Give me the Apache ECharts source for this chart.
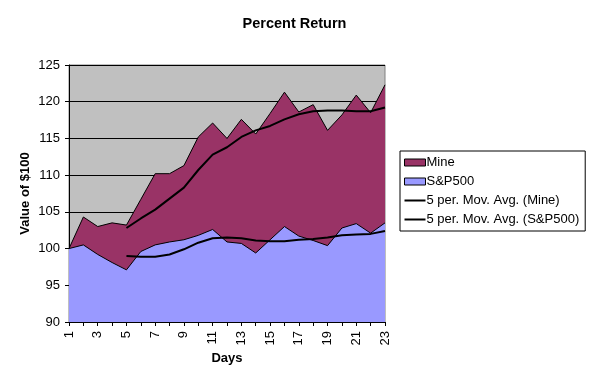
<!DOCTYPE html>
<html>
<head>
<meta charset="utf-8">
<script src="https://cdn.jsdelivr.net/npm/echarts@6/dist/echarts.min.js"></script>
<style>
html,body{margin:0;padding:0;background:#fff;}
#c{width:589px;height:383px;}
</style>
</head>
<body>
<div id="c"></div>
<script>
var days = ['1','2','3','4','5','6','7','8','9','10','11','12','13','14','15','16','17','18','19','20','21','22','23'];
var mine = [100, 104.3, 103.0, 103.5, 103.2, 106.7, 110.2, 110.2, 111.3, 115.2, 117.1, 115.0, 117.6, 115.6, 118.4, 121.3, 118.6, 119.6, 116.1, 118.2, 120.9, 118.5, 122.3];
var sp500 = [100, 100.5, 99.2, 98.1, 97.1, 99.6, 100.5, 100.9, 101.2, 101.8, 102.6, 100.9, 100.7, 99.4, 101.2, 103.0, 101.7, 101.1, 100.4, 102.8, 103.4, 102.1, 103.5];
var maMine = ['-', '-', '-', '-', 102.8, 104.1, 105.3, 106.8, 108.3, 110.7, 112.8, 113.8, 115.2, 116.1, 116.7, 117.6, 118.3, 118.7, 118.8, 118.8, 118.7, 118.7, 119.2];
var maSP = ['-', '-', '-', '-', 99.0, 98.9, 98.9, 99.2, 99.9, 100.8, 101.4, 101.5, 101.4, 101.1, 101.0, 101.0, 101.2, 101.3, 101.5, 101.8, 101.9, 102.0, 102.4];
var yTicks = [90, 95, 100, 105, 110, 115, 120, 125];

var chart = echarts.init(document.getElementById('c'), null, {renderer: 'canvas'});
var font = 'Liberation Sans, Arial, sans-serif';
var lineIcon = 'path://M0,0 L21,0 L21,2 L0,2 Z';
chart.setOption({
  animation: false,
  backgroundColor: '#ffffff',
  title: {
    text: 'Percent Return',
    left: 'center',
    top: 11,
    textStyle: {fontFamily: font, fontSize: 14.5, fontWeight: 'bold', color: '#000'}
  },
  legend: {
    orient: 'vertical',
    left: 400,
    top: 151,
    padding: [4, 6, 4, 4],
    itemGap: 4,
    itemWidth: 21,
    itemHeight: 7,
    symbolKeepAspect: true,
    backgroundColor: '#ffffff',
    borderColor: '#000000',
    borderWidth: 1,
    textStyle: {fontFamily: font, fontSize: 13, lineHeight: 15, color: '#000', padding: [0, 0, 0, -4]},
    data: [
      {name: 'Mine', icon: 'rect', itemStyle: {color: '#993366', borderColor: '#000', borderWidth: 1}},
      {name: 'S&P500', icon: 'rect', itemStyle: {color: '#9999ff', borderColor: '#000', borderWidth: 1}},
      {name: '5 per. Mov. Avg. (Mine)', icon: lineIcon, itemStyle: {color: '#000', borderWidth: 0}},
      {name: '5 per. Mov. Avg. (S&P500)', icon: lineIcon, itemStyle: {color: '#000', borderWidth: 0}}
    ]
  },
  grid: {
    left: 69, right: 204, top: 65, bottom: 61,
    show: true,
    backgroundColor: '#c0c0c0',
    borderColor: '#808080',
    borderWidth: 1
  },
  xAxis: {
    type: 'category',
    data: days,
    boundaryGap: false,
    name: 'Days',
    nameLocation: 'middle',
    nameGap: 30,
    nameMoveOverlap: false,
    nameTextStyle: {fontFamily: font, fontSize: 13, fontWeight: 'bold', color: '#000'},
    axisLine: {lineStyle: {color: '#000', width: 1}},
    axisTick: {show: true, interval: 0, length: 4, lineStyle: {color: '#000'}},
    axisLabel: {interval: 1, rotate: 90, margin: 9, fontFamily: font, fontSize: 13, color: '#000'},
    splitLine: {show: false}
  },
  yAxis: {
    type: 'value',
    min: 90,
    max: 125,
    interval: 5,
    name: 'Value of $100',
    nameLocation: 'middle',
    nameGap: 37,
    nameMoveOverlap: false,
    nameTextStyle: {fontFamily: font, fontSize: 13, fontWeight: 'bold', color: '#000'},
    axisLine: {show: true, lineStyle: {color: '#000', width: 1}},
    axisTick: {show: true, length: 4, lineStyle: {color: '#000'}},
    axisLabel: {margin: 9, fontFamily: font, fontSize: 13, color: '#000',
      formatter: function (v) { return yTicks.indexOf(v) >= 0 ? String(v) : ''; }},
    splitLine: {show: true, lineStyle: {color: '#000', width: 1}}
  },
  series: [
    {
      name: 'Mine', type: 'line', data: mine, symbol: 'none', z: 2,
      itemStyle: {color: '#993366'},
      lineStyle: {color: '#000', width: 1},
      areaStyle: {color: '#993366', opacity: 1, origin: 'start'}
    },
    {
      name: 'S&P500', type: 'line', data: sp500, symbol: 'none', z: 3,
      itemStyle: {color: '#9999ff'},
      lineStyle: {color: '#000', width: 1},
      areaStyle: {color: '#9999ff', opacity: 1, origin: 'start'}
    },
    {
      name: '5 per. Mov. Avg. (Mine)', type: 'line', data: maMine, symbol: 'none', z: 4,
      itemStyle: {color: '#000'},
      lineStyle: {color: '#000', width: 2}
    },
    {
      name: '5 per. Mov. Avg. (S&P500)', type: 'line', data: maSP, symbol: 'none', z: 4,
      itemStyle: {color: '#000'},
      lineStyle: {color: '#000', width: 2}
    }
  ]
});
</script>
</body>
</html>
